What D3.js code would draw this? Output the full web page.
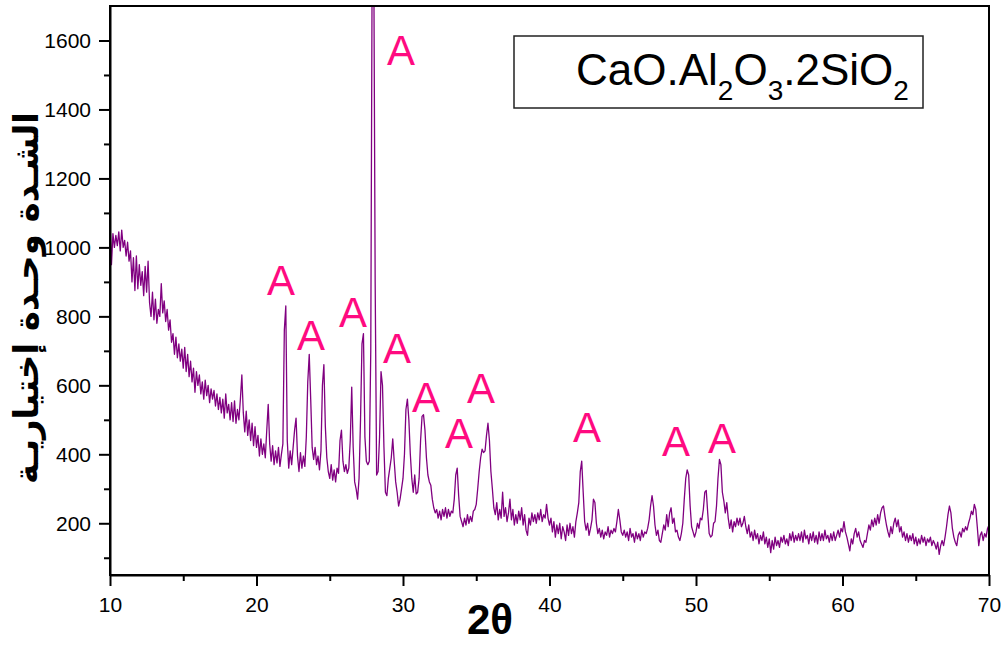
<!DOCTYPE html>
<html>
<head>
<meta charset="utf-8">
<script src="https://cdn.jsdelivr.net/npm/d3@7"></script>
<style>
  html, body { margin: 0; padding: 0; background: #fff; }
  svg { display: block; }
  .tick text { font-family: "Liberation Sans", Arial, sans-serif; }
</style>
</head>
<body>
<svg id="chart" width="1007" height="646"></svg>
<script>
// ---------- DATA ----------
const angleStart = 10;      // 2θ of first sample
const angleStep = 0.1;      // sampling step (degrees)
const intensity = [
  1075, 950, 1040, 1000, 1035, 1005, 1045, 990, 1050, 1000,
  1020, 975, 1015, 960, 990, 900, 970, 875, 975, 880,
  950, 890, 930, 860, 945, 870, 960, 840, 800, 870,
  790, 850, 780, 820, 800, 895, 810, 845, 785, 820,
  760, 790, 725, 750, 690, 740, 680, 720, 670, 705,
  650, 710, 640, 690, 625, 670, 610, 650, 580, 640,
  600, 630, 575, 610, 560, 615, 570, 600, 550, 590,
  560, 585, 540, 575, 530, 565, 520, 560, 505, 575,
  520, 545, 500, 550, 495, 555, 490, 530, 500, 560,
  630, 520, 465, 525, 455, 500, 440, 490, 425, 480,
  420, 455, 395, 445, 400, 430, 390, 470, 545, 430,
  380, 425, 370, 410, 375, 420, 365, 400, 430, 760,
  830, 440, 360, 410, 370, 420, 470, 505, 395, 350,
  405, 360, 395, 365, 450, 610, 690, 560, 420, 385,
  420, 370, 395, 355, 410, 600, 660, 480, 390, 350,
  330, 370, 325, 355, 320, 360, 345, 440, 470, 380,
  350, 370, 345, 360, 440, 595, 420, 320, 300, 270,
  330, 500, 720, 750, 450, 380, 370, 380, 700, 1900,
  1900, 900, 340, 350, 450, 640, 600, 420, 290, 280,
  330, 360, 390, 445, 380, 320, 290, 250, 270, 300,
  330, 400, 530, 560, 500, 400, 330, 290, 340, 285,
  290, 330, 440, 510, 515, 470, 390, 340, 320, 310,
  270, 245, 230, 240, 215, 235, 210, 240, 220, 245,
  215, 240, 220, 235, 230, 270, 340, 360, 280, 220,
  205, 190, 215, 195, 225, 200, 220, 205, 235, 240,
  255, 300, 350, 390, 415, 405, 410, 455, 490, 440,
  350, 300, 245, 225, 260, 210, 240, 215, 290, 220,
  245, 205, 230, 270, 210, 240, 195, 225, 200, 235,
  210, 245, 195, 225, 180, 165, 215, 195, 230, 205,
  225, 200, 230, 210, 240, 205, 225, 215, 255, 215,
  195, 215, 175, 205, 160, 195, 170, 200, 155, 190,
  175, 150, 195, 165, 200, 170, 190, 160, 205, 230,
  260, 350, 380, 290, 205, 180, 200, 165, 185, 210,
  270, 260, 200, 170, 185, 160, 180, 155, 175, 165,
  190, 160, 180, 170, 185, 175, 205, 240, 210, 175,
  165, 180, 160, 175, 150, 185, 160, 170, 145, 175,
  155, 170, 150, 180, 160, 175, 170, 185, 210, 250,
  280, 250, 195, 165, 180, 150, 145, 170, 195, 180,
  225, 190, 230, 245, 200, 215, 175, 180, 160, 150,
  170, 200, 270, 330, 355, 340, 250, 190, 175, 160,
  175, 200, 185, 215, 210, 240, 290, 295, 230, 170,
  160, 165, 200, 205, 250, 330, 385, 370, 290, 265,
  230, 260, 215, 185, 210, 175, 205, 190, 215, 195,
  215, 190, 200, 220, 190, 170, 195, 160, 175, 150,
  180, 155, 170, 140, 165, 150, 175, 140, 160, 130,
  155, 115, 150, 125, 160, 135, 150, 130, 160, 145,
  165, 140, 155, 135, 170, 150, 175, 145, 165, 150,
  170, 150, 175, 145, 180, 155, 165, 140, 170, 150,
  175, 145, 165, 140, 175, 150, 170, 150, 180, 155,
  165, 145, 170, 150, 175, 150, 165, 180, 160, 185,
  175, 205, 175, 160, 140, 120, 155, 140, 170, 185,
  160, 175, 150, 140, 130, 150, 145, 170, 195, 180,
  210, 190, 215, 195, 225, 200, 230, 245, 250, 220,
  195, 175, 160, 190, 170, 200, 215, 190, 210, 175,
  190, 160, 175, 150, 170, 145, 165, 150, 170, 140,
  160, 135, 155, 140, 165, 145, 160, 135, 155, 145,
  160, 135, 150, 140, 125, 145, 110, 135, 150, 135,
  160, 190, 225, 250, 230, 185, 160, 145, 135, 165,
  175, 160, 185, 175, 190, 180, 200, 215, 235, 225,
  255, 240, 190, 135, 165, 175, 150, 170, 160, 185,
  195
];

const xTicks = [10, 20, 30, 40, 50, 60, 70];
const xMinorTicks = [15, 25, 35, 45, 55, 65];
const yTicks = [200, 400, 600, 800, 1000, 1200, 1400, 1600];
const yMinorTicks = [100, 300, 500, 700, 900, 1100, 1300, 1500];

// peak labels ("A") in data coordinates (2θ, intensity of label baseline)
const labelTheta     = [29.86, 21.67, 23.72, 26.59, 29.59, 31.57, 33.82, 35.32, 42.56, 48.63, 51.77];
const labelIntensity = [1528,  861,   702,   769,   664,   522,   418,   549,   436,   395,   404];
const labelText = "A";

const xTitle = "2θ";
const yTitle = "الشـدة وحـدة إختياريـة";
const legendParts = [
  {t: "CaO.Al", sub: false}, {t: "2", sub: true},
  {t: "O", sub: false}, {t: "3", sub: true},
  {t: ".2SiO", sub: false}, {t: "2", sub: true}
];

// ---------- LAYOUT ----------
const W = 1007, H = 646;
const plot = {left: 110, right: 989, top: 6, bottom: 575};
const svg = d3.select("#chart");

const x = d3.scaleLinear().domain([10, 70]).range([plot.left, plot.right]);
const y = d3.scaleLinear().domain([50, 1700]).range([plot.bottom, plot.top]);

const points = intensity.map((v, i) => ({t: angleStart + i * angleStep, v}));

svg.append("defs").append("clipPath").attr("id", "clip")
  .append("rect")
  .attr("x", plot.left).attr("y", plot.top)
  .attr("width", plot.right - plot.left).attr("height", plot.bottom - plot.top);

// data line
const line = d3.line().x(d => x(d.t)).y(d => y(d.v));
svg.append("path")
  .datum(points)
  .attr("clip-path", "url(#clip)")
  .attr("fill", "none")
  .attr("stroke", "#800080")
  .attr("stroke-width", 1.3)
  .attr("stroke-linejoin", "round")
  .attr("d", line);

// frame
svg.append("rect")
  .attr("x", plot.left).attr("y", plot.top)
  .attr("width", plot.right - plot.left).attr("height", plot.bottom - plot.top)
  .attr("fill", "none").attr("stroke", "#000").attr("stroke-width", 2);

// x axis
const gx = svg.append("g").attr("transform", `translate(0,${plot.bottom})`)
  .call(d3.axisBottom(x).tickValues(xTicks).tickSize(11).tickSizeOuter(0).tickPadding(11).tickFormat(d3.format("d")));
gx.select(".domain").attr("stroke-width", 2);
gx.selectAll(".tick line").attr("stroke-width", 2);
gx.selectAll(".tick text").attr("font-size", 21).attr("fill", "#000");
svg.append("g").attr("transform", `translate(0,${plot.bottom})`)
  .call(d3.axisBottom(x).tickValues(xMinorTicks).tickSize(6).tickSizeOuter(0).tickFormat(""))
  .call(g => g.select(".domain").remove())
  .selectAll(".tick line").attr("stroke-width", 2);

// y axis
const gy = svg.append("g").attr("transform", `translate(${plot.left},0)`)
  .call(d3.axisLeft(y).tickValues(yTicks).tickSize(11).tickSizeOuter(0).tickPadding(8).tickFormat(d3.format("d")));
gy.select(".domain").attr("stroke-width", 2);
gy.selectAll(".tick line").attr("stroke-width", 2);
gy.selectAll(".tick text").attr("font-size", 21).attr("fill", "#000");
svg.append("g").attr("transform", `translate(${plot.left},0)`)
  .call(d3.axisLeft(y).tickValues(yMinorTicks).tickSize(6).tickSizeOuter(0).tickFormat(""))
  .call(g => g.select(".domain").remove())
  .selectAll(".tick line").attr("stroke-width", 2);

// axis titles
svg.append("text")
  .attr("x", 490).attr("y", 634)
  .attr("text-anchor", "middle")
  .attr("font-family", "'Liberation Sans', Arial, sans-serif")
  .attr("font-weight", "bold")
  .attr("font-size", 42)
  .attr("fill", "#000")
  .text(xTitle);

const yt = svg.append("text")
  .attr("transform", "translate(38,298) rotate(-90)")
  .attr("text-anchor", "middle")
  .attr("direction", "rtl")
  .attr("font-family", "'DejaVu Sans', 'Noto Sans', sans-serif")
  .attr("font-weight", "bold")
  .attr("font-size", 32)
  .attr("fill", "#000")
  .text(yTitle);
const ytLen = yt.node().getComputedTextLength();
if (ytLen > 0) yt.attr("font-size", 32 * 372 / ytLen);

// peak labels
svg.append("g").selectAll("text")
  .data(labelTheta.map((t, i) => ({t, v: labelIntensity[i]})))
  .join("text")
  .attr("x", d => x(d.t)).attr("y", d => y(d.v))
  .attr("text-anchor", "middle")
  .attr("font-family", "'Liberation Sans', Arial, sans-serif")
  .attr("font-size", 42)
  .attr("fill", "#ff0a80")
  .text(labelText);

// legend box
svg.append("rect")
  .attr("x", 514).attr("y", 36).attr("width", 409).attr("height", 72)
  .attr("fill", "#fff").attr("stroke", "#222").attr("stroke-width", 1.5);
const lt = svg.append("text")
  .attr("x", 576).attr("y", 85)
  .attr("font-family", "'Liberation Sans', Arial, sans-serif")
  .attr("font-size", 44)
  .attr("fill", "#000");
legendParts.forEach(p => {
  lt.append("tspan")
    .attr("font-size", p.sub ? 28 : 44)
    .attr("dy", 0)
    .attr("baseline-shift", p.sub ? "-15px" : null)
    .text(p.t);
});
</script>
</body>
</html>
